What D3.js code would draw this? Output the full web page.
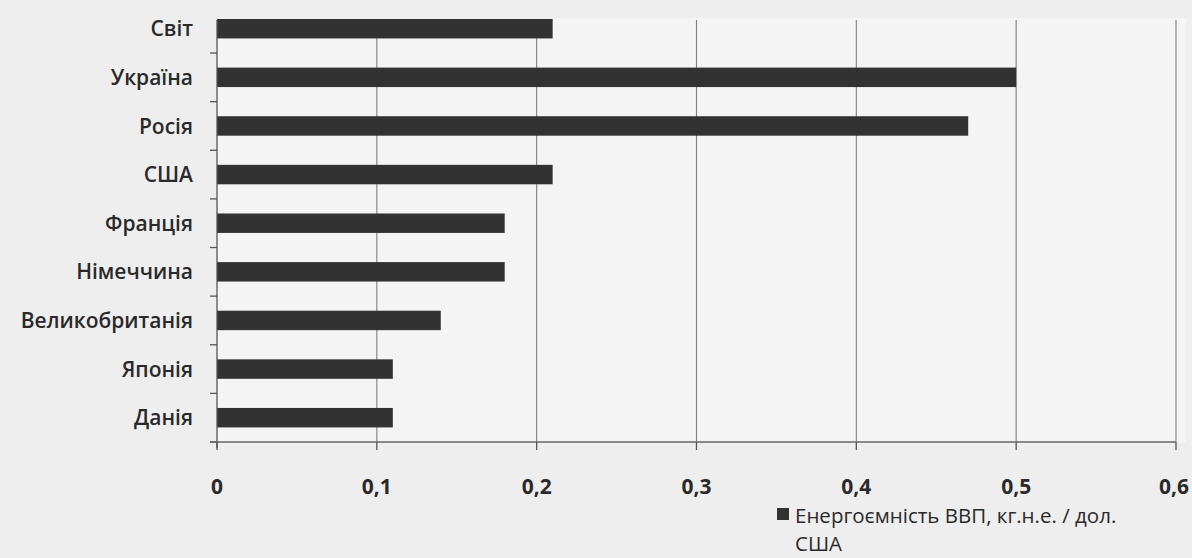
<!DOCTYPE html>
<html><head><meta charset="utf-8">
<script src="https://cdn.jsdelivr.net/npm/d3@7"></script>
<style>
html,body{margin:0;padding:0;background:#eeeeee;}
svg{display:block;}
</style></head>
<body>
<svg id="chart" width="1192" height="558"></svg>
<script>
const categories = ["Світ","Україна","Росія","США","Франція","Німеччина","Великобританія","Японія","Данія"];
const values = [0.21, 0.50, 0.47, 0.21, 0.18, 0.18, 0.14, 0.11, 0.11];
const tickValues = [0, 0.1, 0.2, 0.3, 0.4, 0.5, 0.6];
const tickLabels = ["0","0,1","0,2","0,3","0,4","0,5","0,6"];
const seriesName = "Енергоємність ВВП, кг.н.е. / дол.";
const seriesName2 = "США";

const svg = d3.select("#chart");
const pLeft = 217, pRight = 1176, pTop = 4.4, pBottom = 442;
const x = d3.scaleLinear().domain([0, 0.6]).range([pLeft, pRight]);
const y = d3.scaleBand().domain(categories).range([pTop, pBottom]).paddingInner(0.6).paddingOuter(0.3);
const yb = d3.scaleBand().domain(categories).range([pTop, pBottom]);

// background plot area
svg.append("rect").attr("x", pLeft).attr("y", 18).attr("width", pRight - pLeft + 10).attr("height", pBottom - 18)
  .attr("fill", "#f4f4f4");

// gridlines
svg.append("g").selectAll("line").data(tickValues.slice(1)).join("line")
  .attr("x1", d => x(d)).attr("x2", d => x(d))
  .attr("y1", 20).attr("y2", pBottom)
  .attr("stroke", "#7f7f7f").attr("stroke-width", 1.1);

// bars
svg.append("g").selectAll("rect").data(values).join("rect")
  .attr("x", x(0))
  .attr("y", (d, i) => y(categories[i]))
  .attr("width", d => x(d) - x(0))
  .attr("height", y.bandwidth())
  .attr("fill", "#323232");

// left axis
const gy = svg.append("g");
gy.append("line").attr("x1", pLeft).attr("x2", pLeft).attr("y1", 20).attr("y2", pBottom + 6)
  .attr("stroke", "#555").attr("stroke-width", 1.3);
const bounds = categories.slice(1).map(c => yb(c)).concat([pBottom]);
gy.selectAll("line.t").data(bounds).join("line").attr("class","t")
  .attr("x1", pLeft - 7).attr("x2", pLeft)
  .attr("y1", d => d).attr("y2", d => d)
  .attr("stroke", "#555").attr("stroke-width", 1.3);
gy.selectAll("text").data(categories).join("text")
  .attr("x", 193).attr("y", d => y(d) + y.bandwidth() / 2)
  .attr("dy", "0.36em").attr("text-anchor", "end")
  .attr("font-family", "'Open Sans', sans-serif").attr("font-weight", 600)
  .attr("font-size", 21).attr("fill", "#2a2a2a")
  .text(d => d);

// bottom axis
const gx = svg.append("g");
gx.append("line").attr("x1", pLeft - 7).attr("x2", pRight).attr("y1", pBottom).attr("y2", pBottom)
  .attr("stroke", "#666").attr("stroke-width", 1.3);
gx.selectAll("line.t").data(tickValues).join("line").attr("class","t")
  .attr("x1", d => x(d)).attr("x2", d => x(d)).attr("y1", pBottom).attr("y2", pBottom + 8)
  .attr("stroke", "#555").attr("stroke-width", 1.3);
gx.selectAll("text").data(tickValues).join("text")
  .attr("x", (d, i) => x(d) - (i === tickValues.length - 1 ? 2 : 0)).attr("y", 494)
  .attr("text-anchor", "middle")
  .attr("font-family", "'Open Sans', sans-serif").attr("font-weight", 700)
  .attr("font-size", 21).attr("fill", "#2a2a2a")
  .text((d, i) => tickLabels[i]);

// legend
const lg = svg.append("g");
lg.append("rect").attr("x", 777).attr("y", 508).attr("width", 12).attr("height", 12).attr("fill", "#323232");
lg.append("text").attr("x", 795).attr("y", 523)
  .attr("font-family", "'Open Sans', sans-serif").attr("font-size", 20.5).attr("fill", "#2a2a2a")
  .text(seriesName);
lg.append("text").attr("x", 795).attr("y", 551)
  .attr("font-family", "'Open Sans', sans-serif").attr("font-size", 20.5).attr("fill", "#2a2a2a")
  .text(seriesName2);
</script>
</body></html>
